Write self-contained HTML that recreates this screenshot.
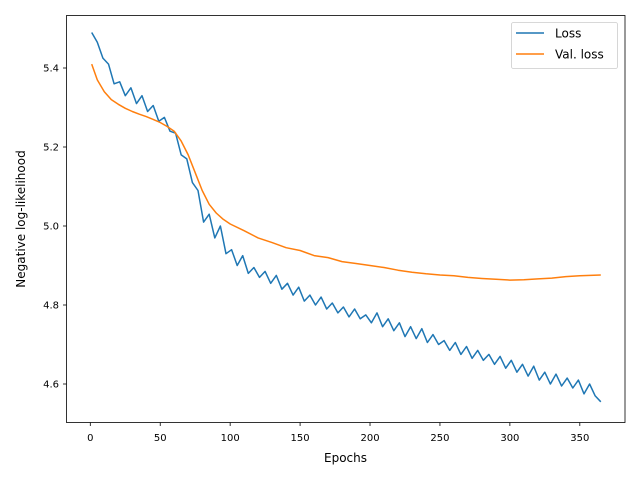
<!DOCTYPE html>
<html><head><meta charset="utf-8"><style>
body{margin:0;background:#fff;}
svg{display:block;font-family:"DejaVu Sans","Liberation Sans",sans-serif;}
</style></head><body>
<svg id="chart" width="640" height="480" xmlns="http://www.w3.org/2000/svg">
<rect width="640" height="480" fill="#fff"/>
<g id="xticks"></g>
<g id="yticks"></g>
<g id="series"></g>
<rect x="66.5" y="15.5" width="558.5" height="407" fill="none" stroke="#000" stroke-width="0.8"/>
<text x="345.5" y="462" font-size="12" text-anchor="middle">Epochs</text>
<text transform="translate(25,219) rotate(-90)" font-size="12" text-anchor="middle">Negative log-likelihood</text>
<g>
<rect x="511.5" y="22.5" width="106" height="46" rx="2" fill="#fff" fill-opacity="0.8" stroke="#ccc" stroke-width="0.8"/>
<g>
<line x1="516" y1="33" x2="544" y2="33" stroke="#1f77b4" stroke-width="1.5"/>
<text x="555" y="37.5" font-size="12">Loss</text></g>
<g>
<line x1="516" y1="54" x2="544" y2="54" stroke="#ff7f0e" stroke-width="1.5"/>
<text x="555" y="58.5" font-size="12">Val. loss</text></g>
</g>
</svg>
<script>
const lossEpochs = [1,5,9,13,17,21,25,29,33,37,41,45,49,53,57,61,65,69,73,77,81,85,89,93,97,101,105,109,113,117,121,125,129,133,137,141,145,149,153,157,161,165,169,173,177,181,185,189,193,197,201,205,209,213,217,221,225,229,233,237,241,245,249,253,257,261,265,269,273,277,281,285,289,293,297,301,305,309,313,317,321,325,329,333,337,341,345,349,353,357,361,365];
const lossValues = [5.49,5.465,5.425,5.41,5.36,5.365,5.33,5.35,5.31,5.33,5.29,5.305,5.265,5.275,5.24,5.235,5.18,5.17,5.11,5.09,5.01,5.03,4.97,5.0,4.93,4.94,4.90,4.925,4.88,4.895,4.87,4.885,4.855,4.875,4.84,4.855,4.825,4.845,4.81,4.825,4.80,4.82,4.79,4.805,4.78,4.795,4.77,4.79,4.765,4.775,4.755,4.78,4.745,4.765,4.735,4.755,4.72,4.745,4.715,4.74,4.705,4.725,4.70,4.71,4.685,4.705,4.675,4.695,4.665,4.685,4.66,4.675,4.65,4.67,4.64,4.66,4.63,4.65,4.62,4.645,4.61,4.63,4.60,4.625,4.595,4.615,4.59,4.61,4.575,4.60,4.57,4.555];
const valEpochs = [1,5,10,15,20,25,30,35,40,45,50,55,60,65,70,75,80,85,90,95,100,110,120,130,140,150,160,170,180,190,200,210,220,230,240,250,260,270,280,290,300,310,320,330,340,350,365];
const valValues = [5.41,5.37,5.34,5.32,5.308,5.298,5.29,5.283,5.277,5.27,5.262,5.252,5.24,5.215,5.18,5.135,5.09,5.055,5.033,5.017,5.005,4.988,4.97,4.958,4.945,4.938,4.925,4.92,4.91,4.905,4.90,4.895,4.888,4.883,4.879,4.876,4.874,4.87,4.867,4.865,4.863,4.864,4.866,4.868,4.872,4.874,4.876];
const xTicks = [0,50,100,150,200,250,300,350];
const yTicks = [4.6,4.8,5.0,5.2,5.4];
const NS='http://www.w3.org/2000/svg';
function xs(v){return 90.3+v*1.3986;}
function ys(v){return 68+(5.4-v)*395;}
const xg=document.getElementById('xticks'), yg=document.getElementById('yticks'), sg=document.getElementById('series');
xTicks.forEach(t=>{
  const l=document.createElementNS(NS,'line');
  
  
  l.setAttribute('x1',xs(t));l.setAttribute('x2',xs(t));l.setAttribute('y1',422.5);l.setAttribute('y2',426);l.setAttribute('stroke','#000');l.setAttribute('stroke-width','0.8');
  xg.appendChild(l);
  const tx=document.createElementNS(NS,'text');
  
  
  tx.setAttribute('x',xs(t));tx.setAttribute('y',441);tx.setAttribute('font-size','10');tx.setAttribute('text-anchor','middle');
  tx.textContent=t;xg.appendChild(tx);
});
yTicks.forEach(t=>{
  const l=document.createElementNS(NS,'line');
  
  
  l.setAttribute('x1',63);l.setAttribute('x2',66.5);l.setAttribute('y1',ys(t));l.setAttribute('y2',ys(t));l.setAttribute('stroke','#000');l.setAttribute('stroke-width','0.8');
  yg.appendChild(l);
  const tx=document.createElementNS(NS,'text');
  
  
  tx.setAttribute('x',59);tx.setAttribute('y',ys(t)+3.5);tx.setAttribute('font-size','10');tx.setAttribute('text-anchor','end');
  tx.textContent=t.toFixed(1);yg.appendChild(tx);
});
function line(ex,vals,color,name){
  const p=document.createElementNS(NS,'polyline');
  
  
  p.setAttribute('points',ex.map((e,i)=>xs(e).toFixed(1)+','+ys(vals[i]).toFixed(1)).join(' '));
  p.setAttribute('fill','none');p.setAttribute('stroke',color);p.setAttribute('stroke-width','1.5');p.setAttribute('stroke-linejoin','round');
  sg.appendChild(p);
}
line(lossEpochs,lossValues,'#1f77b4','loss-line');
line(valEpochs,valValues,'#ff7f0e','val-loss-line');
</script>
</body></html>
